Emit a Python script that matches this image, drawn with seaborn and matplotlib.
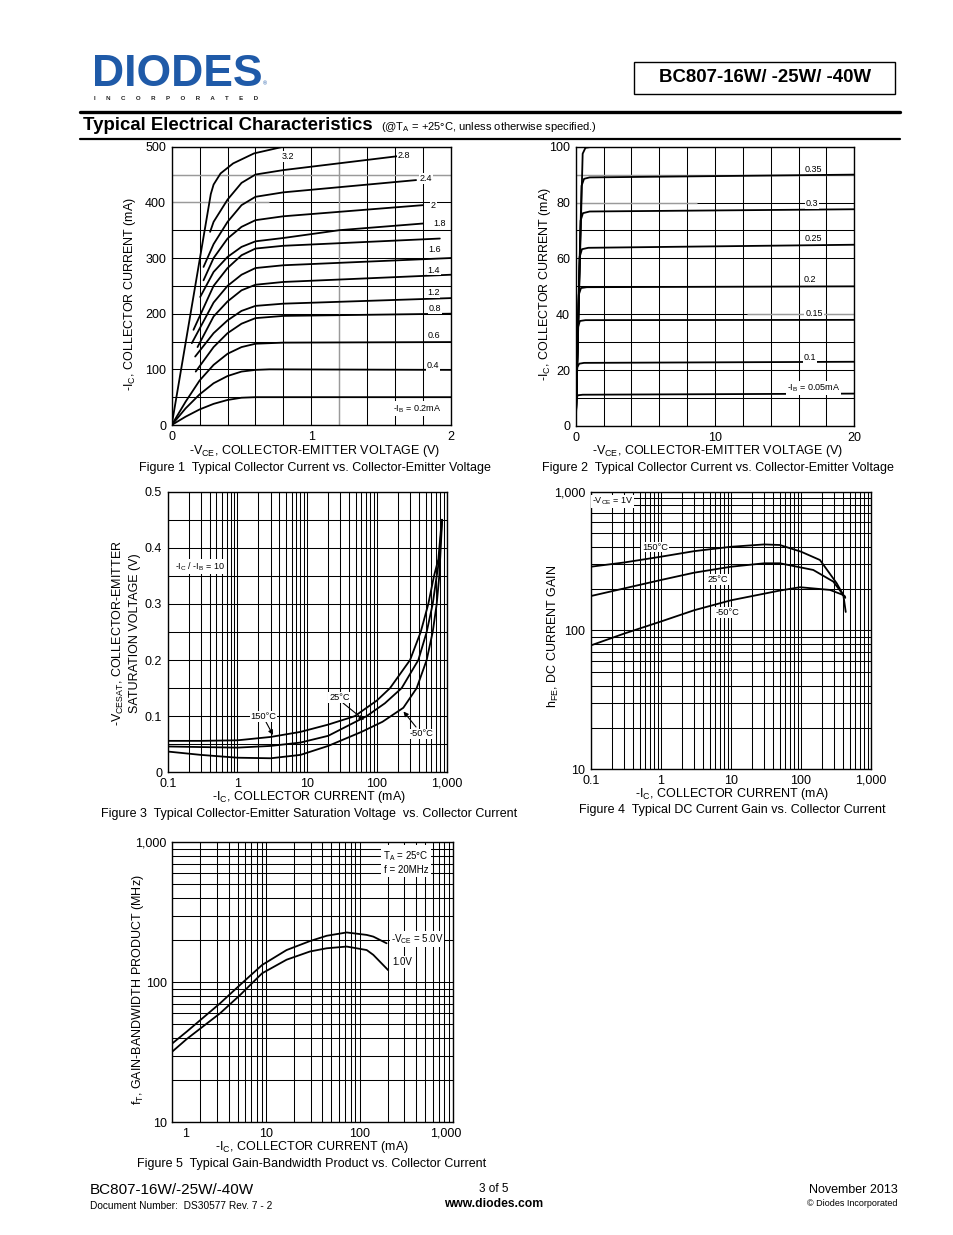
import numpy as np
import pandas as pd
import matplotlib
matplotlib.use("Agg")
import matplotlib.pyplot as plt
import matplotlib.transforms as mtransforms
import seaborn as sns
from matplotlib.ticker import MultipleLocator, LogLocator, NullFormatter
from matplotlib.patches import Rectangle
from matplotlib.lines import Line2D

# ---------------- DATA ----------------
# Figure 1: -Ic (mA) vs -Vce (V) for several base currents
fig1_vce = {
    "0.2": [0, 0.1, 0.2, 0.3, 0.4, 0.5, 0.6, 2.0],
    "0.4": [0, 0.1, 0.2, 0.3, 0.4, 0.5, 0.6, 0.7, 2.0],
    "0.6": [0, 0.1, 0.2, 0.3, 0.4, 0.5, 0.6, 0.8, 2.0],
    "0.8": [0.172, 0.3, 0.4, 0.5, 0.6, 0.8, 2.0],
    "1.0": [0.168, 0.3, 0.4, 0.5, 0.6, 0.8, 2.0],
    "1.2": [0.185, 0.3, 0.4, 0.5, 0.6, 0.8, 2.0],
    "1.4": [0.144, 0.3, 0.4, 0.5, 0.6, 0.8, 2.0],
    "1.6": [0.156, 0.3, 0.4, 0.5, 0.6, 0.8, 1.92],
    "1.8": [0.204, 0.3, 0.4, 0.5, 0.6, 0.8, 1.2, 1.8],
    "2.0": [0.228, 0.3, 0.4, 0.5, 0.6, 0.8, 1.8],
    "2.4": [0.228, 0.3, 0.4, 0.5, 0.6, 0.8, 1.75],
    "2.8": [0.275, 0.3, 0.4, 0.5, 0.6, 0.8, 1.62],
    "3.2": [0, 0.28, 0.3, 0.35, 0.44, 0.59, 0.8],
}
fig1_ic = {
    "0.2": [0, 15, 28, 38, 45, 49, 50, 50],
    "0.4": [0, 30, 55, 75, 88, 96, 99, 100, 99],
    "0.6": [0, 42, 80, 108, 128, 140, 146, 148, 149],
    "0.8": [96, 140, 165, 182, 192, 196, 200],
    "1.0": [123, 165, 188, 205, 214, 218, 228],
    "1.2": [140, 195, 222, 242, 252, 257, 270],
    "1.4": [147, 220, 250, 270, 282, 287, 300],
    "1.6": [171, 250, 282, 305, 317, 322, 335],
    "1.8": [230, 275, 302, 320, 330, 336, 350, 362],
    "2.0": [260, 300, 335, 356, 368, 375, 395],
    "2.4": [284, 325, 365, 395, 410, 418, 440],
    "2.8": [347, 365, 405, 435, 450, 458, 483],
    "3.2": [0, 415, 432, 452, 470, 488, 500],
}

# Figure 2: -Ic (mA) vs -Vce (V), small base currents
fig2_vce = {
    "0.05": [0, 0.06, 0.15, 0.5, 20],
    "0.1": [0, 0.11, 0.25, 0.6, 20],
    "0.15": [0, 0.17, 0.3, 0.7, 20],
    "0.2": [0, 0.22, 0.38, 0.8, 20],
    "0.25": [0, 0.28, 0.45, 0.9, 20],
    "0.3": [0, 0.35, 0.52, 1.0, 20],
    "0.35": [0, 0.42, 0.6, 1.0, 20],
    "0.4": [0, 0.5, 0.7, 1.2, 20],
}
fig2_ic = {
    "0.05": [0, 10, 11.0, 11.2, 11.6],
    "0.1": [0, 21, 22.3, 22.6, 23.0],
    "0.15": [0, 35.5, 37.6, 37.9, 38.0],
    "0.2": [0, 47, 49.4, 49.7, 50.0],
    "0.25": [0, 60.5, 63.3, 63.8, 64.9],
    "0.3": [0, 73.5, 76.2, 76.8, 77.6],
    "0.35": [0, 86, 88.5, 89.0, 90.0],
    "0.4": [0, 97.5, 99.6, 100.0, 100.3],
}

# Figure 3: -Vcesat (V) vs -Ic (mA)
f3_ic_150 = [0.1, 0.3, 1, 3, 8, 20, 48, 100, 154, 298, 424, 545, 658, 760, 850]
f3_v_150 = [0.056, 0.056, 0.057, 0.063, 0.072, 0.085, 0.100, 0.128, 0.150, 0.200, 0.250, 0.300, 0.350, 0.380, 0.450]
f3_ic_25 = [0.1, 0.3, 1, 3, 8, 20, 71, 130, 226, 392, 516, 630, 719, 783, 855]
f3_v_25 = [0.046, 0.045, 0.044, 0.047, 0.053, 0.065, 0.100, 0.123, 0.150, 0.200, 0.250, 0.300, 0.350, 0.380, 0.450]
f3_ic_m50 = [0.1, 0.3, 1, 3, 8, 20, 60, 120, 239, 371, 516, 630, 719, 783, 860]
f3_v_m50 = [0.037, 0.031, 0.026, 0.025, 0.031, 0.047, 0.072, 0.090, 0.115, 0.150, 0.200, 0.250, 0.300, 0.350, 0.450]

# Figure 4: hFE vs -Ic (mA)
f4_ic_150 = [0.1, 0.3, 1, 3, 10, 30, 50, 100, 187, 324, 403, 436]
f4_h_150 = [288, 309, 340, 373, 401, 417, 413, 370, 322, 219, 180, 136]
f4_ic_25 = [0.1, 0.3, 1, 3, 10, 30, 50, 150, 290, 403, 430]
f4_h_25 = [177, 201, 231, 261, 288, 305, 305, 273, 225, 180, 172]
f4_ic_m50 = [0.1, 0.3, 1, 3, 10, 50, 97, 260, 382, 426]
f4_h_m50 = [78, 95, 116, 140, 165, 194, 205, 196, 182, 176]

# Figure 5: fT (MHz) vs -Ic (mA)
f5_ic_5v = [1.0, 1.43, 3.23, 5.28, 9.1, 16.6, 29.5, 44.5, 72.7, 119, 140, 194]
f5_ft_5v = [36.6, 44.5, 70.7, 95.7, 133, 170, 197, 215, 227, 218, 212, 190]
f5_ic_1v = [1.0, 1.43, 3.23, 5.28, 9.1, 16.6, 29.5, 44.5, 72.7, 119, 140, 202]
f5_ft_1v = [32, 39.4, 60, 81, 116, 145, 166, 175, 180, 170, 157, 122]

log_ticks = [0.1, 1, 10, 100, 1000]
log_ticklabels = ["0.1", "1", "10", "100", "1,000"]

# ---------------- SETUP ----------------
W, H = 954, 1235
sns.set_theme(style="white")
plt.rcParams["font.family"] = ["Liberation Sans", "DejaVu Sans"]
plt.rcParams["mathtext.fontset"] = "custom"
plt.rcParams["mathtext.rm"] = "Liberation Sans"
plt.rcParams["mathtext.it"] = "Liberation Sans:italic"
plt.rcParams["mathtext.bf"] = "Liberation Sans:bold"
plt.rcParams["text.color"] = "black"
plt.rcParams["axes.labelcolor"] = "black"
plt.rcParams["xtick.color"] = "black"
plt.rcParams["ytick.color"] = "black"

fig = plt.figure(figsize=(W / 100, H / 100), dpi=100)
fig.patch.set_facecolor("white")


def ax_at(l, t, r, b):
    return fig.add_axes([l / W, 1 - b / H, (r - l) / W, (b - t) / H])


def T(x, y, s, size=9, ha="center", va="center", **kw):
    return fig.text(x / W, 1 - y / H, s, fontsize=size, ha=ha, va=va, **kw)


def long_df(xs, ys, xname, yname):
    rows = []
    for k in xs:
        for xv, yv in zip(xs[k], ys[k]):
            rows.append({"curve": k, xname: xv, yname: yv})
    return pd.DataFrame(rows)


def style(ax):
    ax.set_facecolor("white")
    for s in ax.spines.values():
        s.set_color("black")
        s.set_linewidth(1.0)
        s.set_visible(True)
    ax.tick_params(which="both", length=0, labelsize=9, pad=4, colors="black")
    ax.grid(True, which="both", color="black", lw=0.75)
    ax.set_axisbelow(True)
    ax.set_xlabel("")
    ax.set_ylabel("")


def shift_label(lbl, dx_px):
    lbl.set_transform(lbl.get_transform() +
                      mtransforms.ScaledTranslation(dx_px / 100, 0, fig.dpi_scale_trans))


BOX = dict(facecolor="white", edgecolor="none", pad=0.6)
LW = 1.3

# ---------------- HEADER ----------------
T(92, 86.5, "DIODES", size=32, ha="left", va="baseline", weight="bold", color="#1f5aa8")
fig.add_artist(Line2D([92 / W, 262 / W], [1 - 72 / H] * 2, color="white", lw=1.0))
T(263, 84, "®", size=4, ha="left", color="#1f5aa8")
T(94, 99, "      ".join("INCORPORATED"), size=4.4, ha="left", weight="bold", color="#222222")
fig.add_artist(Rectangle((634 / W, 1 - 94 / H), 261 / W, 32 / H, transform=fig.transFigure,
                         fill=False, ec="black", lw=1.0))
T(765, 78, "BC807-16W/ -25W/ -40W", size=13.4, weight="bold")
fig.add_artist(Line2D([80 / W, 900 / W], [1 - 112 / H] * 2, color="black", lw=2.4))
fig.add_artist(Line2D([80 / W, 900 / W], [1 - 138.5 / H] * 2, color="black", lw=1.6))
T(83, 125, "Typical Electrical Characteristics", size=13.4, ha="left", weight="bold")
T(381, 127, r"(@T$_\mathregular{A}$ = +25°C, unless otherwise specified.)", size=8, ha="left")

# ---------------- FIGURE 1 ----------------
ax1 = ax_at(171.7, 146.7, 451, 425)
df1 = long_df(fig1_vce, fig1_ic, "vce", "ic")
sns.lineplot(data=df1, x="vce", y="ic", units="curve", estimator=None, sort=False,
             color="black", lw=LW, ax=ax1, legend=False)
style(ax1)
ax1.set_xlim(0, 2)
ax1.set_ylim(0, 500)
ax1.set_xticks([0, 1, 2], ["0", "1", "2"])
ax1.set_yticks([0, 100, 200, 300, 400, 500], ["0", "100", "200", "300", "400", "500"])
ax1.xaxis.set_minor_locator(MultipleLocator(0.2))
ax1.yaxis.set_minor_locator(MultipleLocator(50))
ax1.axhline(450, color="#9a9a9a", lw=1.0, zorder=1)
ax1.hlines(400, 0, 0.7, color="#9a9a9a", lw=1.0, zorder=1)
ax1.axvline(1.2, color="#9a9a9a", lw=1.0, zorder=1)
f1_labels = [("3.2", 288, 156.7), ("2.8", 404, 156), ("2.4", 426, 178.3), ("2", 433.3, 205),
             ("1.8", 439.3, 223.3), ("1.6", 435, 250), ("1.4", 434, 270), ("1.2", 433.3, 292.7),
             ("0.8", 435, 308.3), ("0.6", 434, 336), ("0.4", 433.3, 365.7)]
for s, x, y in f1_labels:
    T(x, y, s, size=6.5, bbox=BOX)
T(416.7, 408.5, r"-I$_\mathregular{B}$ = 0.2mA", size=6.5, bbox=BOX)
T(130, 294, r"-I$_\mathregular{C}$, COLLECTOR CURRENT (mA)", rotation=90)
T(315, 451, r"-V$_\mathregular{CE}$, COLLECTOR-EMITTER VOLTAGE (V)")
T(315, 467.5, "Figure 1  Typical Collector Current vs. Collector-Emitter Voltage")

# ---------------- FIGURE 2 ----------------
ax2 = ax_at(575.7, 146.7, 854.3, 426)
df2 = long_df(fig2_vce, fig2_ic, "vce", "ic")
sns.lineplot(data=df2, x="vce", y="ic", units="curve", estimator=None, sort=False,
             color="black", lw=LW, ax=ax2, legend=False)
style(ax2)
ax2.set_xlim(0, 20)
ax2.set_ylim(0, 100)
ax2.set_xticks([0, 10, 20], ["0", "10", "20"])
ax2.set_yticks([0, 20, 40, 60, 80, 100], ["0", "20", "40", "60", "80", "100"])
ax2.xaxis.set_minor_locator(MultipleLocator(2))
ax2.yaxis.set_minor_locator(MultipleLocator(10))
ax2.axhline(90, color="#9a9a9a", lw=1.0, zorder=1)
ax2.hlines(80, 0, 8.7, color="#9a9a9a", lw=1.0, zorder=1)
ax2.hlines(40, 12.3, 20, color="#9a9a9a", lw=1.0, zorder=1)
f2_labels = [("0.35", 813.3, 169), ("0.3", 811.7, 203.3), ("0.25", 813.3, 238.3), ("0.2", 810, 280),
             ("0.15", 814, 313.3), ("0.1", 810, 357.3)]
for s, x, y in f2_labels:
    T(x, y, s, size=6.5, bbox=BOX)
T(813.3, 388, r"-I$_\mathregular{B}$ = 0.05mA", size=6.5, bbox=BOX)
T(545, 284, r"-I$_\mathregular{C}$, COLLECTOR CURRENT (mA)", rotation=90)
T(718, 451, r"-V$_\mathregular{CE}$, COLLECTOR-EMITTER VOLTAGE (V)")
T(718, 467.5, "Figure 2  Typical Collector Current vs. Collector-Emitter Voltage")

# ---------------- FIGURE 3 ----------------
ax3 = ax_at(167.7, 491.7, 446.7, 772.3)
ax3.set_xscale("log")
df3 = pd.concat([
    pd.DataFrame({"ic": f3_ic_150, "v": f3_v_150, "t": "150°C"}),
    pd.DataFrame({"ic": f3_ic_25, "v": f3_v_25, "t": "25°C"}),
    pd.DataFrame({"ic": f3_ic_m50, "v": f3_v_m50, "t": "-50°C"}),
])
sns.lineplot(data=df3, x="ic", y="v", units="t", estimator=None, sort=False,
             color="black", lw=LW, ax=ax3, legend=False)
style(ax3)
ax3.set_xlim(0.1, 1000)
ax3.set_ylim(0, 0.5)
ax3.set_xticks(log_ticks, log_ticklabels)
ax3.xaxis.set_minor_locator(LogLocator(base=10, subs=np.arange(2, 10), numticks=50))
ax3.xaxis.set_minor_formatter(NullFormatter())
ax3.set_yticks([0, 0.1, 0.2, 0.3, 0.4, 0.5], ["0", "0.1", "0.2", "0.3", "0.4", "0.5"])
ax3.yaxis.set_minor_locator(MultipleLocator(0.05))
T(200, 566.5, r"-I$_\mathregular{C}$ / -I$_\mathregular{B}$ = 10", size=6.5, bbox=BOX)
T(263.5, 716.7, "150°C", size=6.7, bbox=BOX)
T(339.5, 697.5, "25°C", size=6.7, bbox=BOX)
T(421.7, 734, "-50°C", size=6.7, bbox=BOX)
ARW = dict(arrowstyle="-|>", color="black", lw=0.8, mutation_scale=7, shrinkA=0, shrinkB=0)
for (x0, y0), (x1, y1) in [((266, 722), (273, 735)), ((343, 703), (364, 720)), ((416, 727), (403.5, 711.5))]:
    ax3.annotate("", xy=(x1, H - y1), xytext=(x0, H - y0), xycoords="figure pixels",
                 textcoords="figure pixels", arrowprops=ARW)
T(118, 633, r"-V$_\mathregular{CESAT}$, COLLECTOR-EMITTER", rotation=90)
T(135, 633, "SATURATION VOLTAGE (V)", rotation=90)
T(309, 797, r"-I$_\mathregular{C}$, COLLECTOR CURRENT (mA)")
T(309, 813.5, "Figure 3  Typical Collector-Emitter Saturation Voltage  vs. Collector Current")

# ---------------- FIGURE 4 ----------------
ax4 = ax_at(590.7, 491.7, 871, 769.3)
ax4.set_xscale("log")
ax4.set_yscale("log")
df4 = pd.concat([
    pd.DataFrame({"ic": f4_ic_150, "h": f4_h_150, "t": "150°C"}),
    pd.DataFrame({"ic": f4_ic_25, "h": f4_h_25, "t": "25°C"}),
    pd.DataFrame({"ic": f4_ic_m50, "h": f4_h_m50, "t": "-50°C"}),
])
sns.lineplot(data=df4, x="ic", y="h", units="t", estimator=None, sort=False,
             color="black", lw=LW, ax=ax4, legend=False)
style(ax4)
ax4.set_xlim(0.1, 1000)
ax4.set_ylim(10, 1000)
ax4.set_xticks(log_ticks, log_ticklabels)
ax4.set_yticks([10, 100, 1000], ["10", "100", "1,000"])
for a in (ax4.xaxis, ax4.yaxis):
    a.set_minor_locator(LogLocator(base=10, subs=np.arange(2, 10), numticks=50))
    a.set_minor_formatter(NullFormatter())
T(592, 501.5, r"-V$_\mathregular{CE}$ = 1V", size=6.5, ha="left", bbox=BOX)
T(655, 547, "150°C", size=6.7, bbox=BOX)
T(718.3, 579.3, "25°C", size=6.7, bbox=BOX)
T(727.3, 612.7, "-50°C", size=6.7, bbox=BOX)
T(553, 636, r"h$_\mathregular{FE}$, DC CURRENT GAIN", rotation=90)
T(732, 794, r"-I$_\mathregular{C}$, COLLECTOR CURRENT (mA)")
T(732, 810.5, "Figure 4  Typical DC Current Gain vs. Collector Current")

# ---------------- FIGURE 5 ----------------
ax5 = ax_at(172.3, 842.3, 453.3, 1122.3)
ax5.set_xscale("log")
ax5.set_yscale("log")
df5 = pd.concat([
    pd.DataFrame({"ic": f5_ic_5v, "ft": f5_ft_5v, "v": "5.0V"}),
    pd.DataFrame({"ic": f5_ic_1v, "ft": f5_ft_1v, "v": "1.0V"}),
])
sns.lineplot(data=df5, x="ic", y="ft", units="v", estimator=None, sort=False,
             color="black", lw=LW, ax=ax5, legend=False)
style(ax5)
ax5.set_xlim(1, 1000)
ax5.set_ylim(10, 1000)
ax5.set_xticks([1, 10, 100, 1000], ["1", "10", "100", "1,000"])
ax5.set_yticks([10, 100, 1000], ["10", "100", "1,000"])
for a in (ax5.xaxis, ax5.yaxis):
    a.set_minor_locator(LogLocator(base=10, subs=np.arange(2, 10), numticks=50))
    a.set_minor_formatter(NullFormatter())
xl5 = ax5.get_xticklabels()
shift_label(xl5[0], 13)
shift_label(xl5[-1], -8)
T(406, 862, "T$_\\mathregular{A}$ = 25°C\nf = 20MHz", size=7, bbox=dict(facecolor="white", edgecolor="none", pad=1.5),
  linespacing=1.2, ha="center")
T(417, 939, r"-V$_\mathregular{CE}$ = 5.0V", size=7, bbox=BOX)
T(402, 961.7, "1.0V", size=7, bbox=BOX)
T(138, 990, r"f$_\mathregular{T}$, GAIN-BANDWIDTH PRODUCT (MHz)", rotation=90)
T(312, 1147, r"-I$_\mathregular{C}$, COLLECTOR CURRENT (mA)")
T(312, 1163.5, "Figure 5  Typical Gain-Bandwidth Product vs. Collector Current")

# ---------------- FOOTER ----------------
T(90, 1190, "BC807-16W/-25W/-40W", size=11, ha="left")
T(90, 1206, "Document Number:  DS30577 Rev. 7 - 2", size=7.3, ha="left")
T(494, 1189, "3 of 5", size=8.5)
T(494, 1204, "www.diodes.com", size=8.7, weight="bold")
T(898, 1190, "November 2013", size=9, ha="right")
T(898, 1204, "© Diodes Incorporated", size=6.5, ha="right")

fig.savefig("out.png", dpi=100, facecolor="white")
